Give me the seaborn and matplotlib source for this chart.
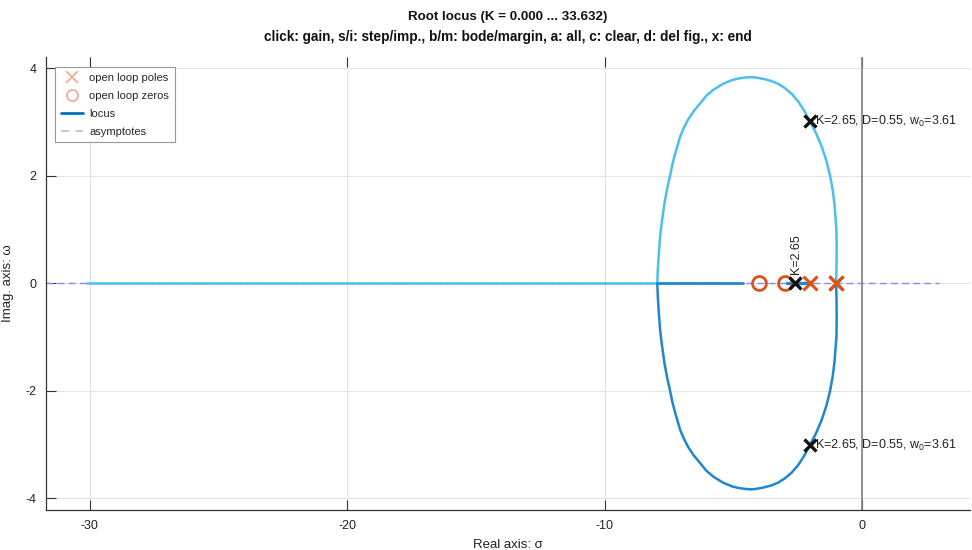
import numpy as np
import matplotlib
matplotlib.use("Agg")
import matplotlib.pyplot as plt
import seaborn as sns
from matplotlib.lines import Line2D

# ---- open-loop system and gain range ----
poles_re = [-1.0, -1.0, -2.0]
zeros_re = [-3.0, -4.0]
k_range = (0.000, 33.632)

# ---- locus: upper half of the complex loop (lower half is its conjugate) ----
loop_re = [-1.00, -0.985, -0.98, -0.99, -1.03, -1.07, -1.14, -1.24, -1.38, -1.56,
           -1.78, -2.02, -2.24, -2.47, -2.72, -2.99, -3.25, -3.50, -3.85, -4.15,
           -4.30, -4.50, -4.80, -5.05, -5.40, -5.77, -6.04, -6.28, -6.54, -6.76,
           -6.92, -7.06, -7.25, -7.36, -7.45, -7.57, -7.67, -7.77, -7.84, -7.89,
           -7.93, -7.95]
loop_im = [0.00, 0.35, 0.70, 1.00, 1.25, 1.49, 1.75, 2.01, 2.28, 2.54,
           2.79, 3.01, 3.21, 3.38, 3.52, 3.63, 3.71, 3.76, 3.805, 3.83,
           3.835, 3.83, 3.81, 3.78, 3.71, 3.60, 3.49, 3.35, 3.20, 3.04,
           2.89, 2.73, 2.42, 2.22, 2.01, 1.75, 1.49, 1.15, 0.87, 0.55,
           0.25, 0.00]

# real-axis branches (start, end)
branch_far_left = [-7.95, -30.10]
branch_inner = [-7.95, -4.63]
branch_pole = [-2.00, -2.91]

# ---- selected gain K = 2.65 ----
sel_gain = 2.65
sel_re = [-2.02, -2.02, -2.60]
sel_im = [3.01, -3.01, 0.00]
sel_damping = 0.55
sel_w0 = 3.61

x_ticks = [-30, -20, -10, 0]
y_ticks = [-4, -2, 0, 2, 4]

LIGHT = "#4dbeee"
DARK = "#1f86cf"
ORANGE = "#d95319"

sns.set_theme(style="whitegrid")
plt.rcParams["font.family"] = ["Liberation Sans", "DejaVu Sans"]
plt.rcParams["axes.unicode_minus"] = False
plt.rcParams["mathtext.fontset"] = "custom"
plt.rcParams["mathtext.rm"] = "Liberation Sans"
plt.rcParams["mathtext.it"] = "Liberation Sans:italic"

fig = plt.figure(figsize=(9.72, 5.5), dpi=100)
ax = fig.add_axes([46 / 972, 40 / 550, 924 / 972, 453 / 550])
ax.set_xlim(-31.7, 4.2)
ax.set_ylim(-4.22, 4.21)

# imaginary axis and asymptote
ax.axvline(0, color="#808080", lw=1.2, zorder=1)
ax.plot([-31.7, 3.0], [0, 0], ls=(0, (5, 3)), color="#8a8ae0", lw=1.0, zorder=1.5)

# locus branches
sns.lineplot(x=loop_re, y=loop_im, sort=False, estimator=None, color=LIGHT, lw=1.8, ax=ax, zorder=3)
sns.lineplot(x=loop_re, y=[-v for v in loop_im], sort=False, estimator=None, color=DARK, lw=1.8, ax=ax, zorder=3)
sns.lineplot(x=branch_far_left, y=[0, 0], sort=False, estimator=None, color=LIGHT, lw=1.8, ax=ax, zorder=2.5)
sns.lineplot(x=branch_inner, y=[0, 0], sort=False, estimator=None, color=DARK, lw=2.0, ax=ax, zorder=2.5)
sns.lineplot(x=branch_pole, y=[0, 0], sort=False, estimator=None, color=DARK, lw=2.4, ax=ax, zorder=2.5)

# open-loop zeros and poles
ax.plot(zeros_re, [0] * len(zeros_re), ls="none", marker="o", mfc="none", mec=ORANGE, ms=10, mew=2, zorder=4)
ax.plot(poles_re, [0] * len(poles_re), ls="none", marker="x", color=ORANGE, ms=10, mew=2.2, zorder=4)

# closed-loop poles at the selected gain
ax.plot(sel_re, sel_im, ls="none", marker="x", color="#111111", ms=9, mew=2.4, zorder=5)
info = f"K={sel_gain:.2f}, D={sel_damping:.2f}, w$_0$={sel_w0:.2f}"
for re, im in zip(sel_re[:2], sel_im[:2]):
    ax.text(re + 0.2, im, info, ha="left", va="center", fontsize=9, color="#222222", zorder=6)
ax.text(sel_re[2] + 0.05, 0.17, f"K={sel_gain:.2f}", rotation=90, ha="center", va="bottom",
        fontsize=9, color="#222222", zorder=6)

# axes styling
ax.set_xticks(x_ticks)
ax.set_yticks(y_ticks)
ax.set_xticklabels([str(t) for t in x_ticks])
ax.set_yticklabels([str(t) for t in y_ticks])
ax.grid(True, color="#e3e3e3", lw=0.8)
ax.tick_params(direction="in", length=7, width=0.8, color="#333333", labelsize=9,
               labelcolor="#222222", top=True, bottom=True, left=True, right=False, pad=7)
for side in ("left", "bottom"):
    ax.spines[side].set_color("#333333")
    ax.spines[side].set_linewidth(0.9)
for side in ("top", "right"):
    ax.spines[side].set_visible(False)

ax.set_xlabel("Real axis: σ", fontsize=9.5, color="#222222", labelpad=5)
ax.set_ylabel("Imag. axis: ω", fontsize=9.5, color="#222222", labelpad=8)

fig.text(508 / 972, 1 - 17 / 550, f"Root locus (K = {k_range[0]:.3f} ... {k_range[1]:.3f})",
         ha="center", va="center", fontsize=9.6, fontweight="bold", color="#111111")
fig.text(508 / 972, 1 - 37 / 550,
         "click: gain, s/i: step/imp., b/m: bode/margin, a: all, c: clear, d: del fig., x: end",
         ha="center", va="center", fontsize=9.8, fontweight="bold", color="#111111")

handles = [
    Line2D([], [], ls="none", marker="x", color="#eeaa8c", ms=8, mew=1.2),
    Line2D([], [], ls="none", marker="o", mfc="none", mec="#eeaa8c", ms=8, mew=1.2),
    Line2D([], [], color="#0072bd", lw=2),
    Line2D([], [], color="#c5c5e8", lw=1.5, ls=(0, (4, 3))),
]
labels = ["open loop poles", "open loop zeros", "locus", "asymptotes"]
leg = ax.legend(handles, labels, loc="upper left", bbox_to_anchor=(0.0097, 0.978), borderaxespad=0,
                fontsize=8, frameon=True, fancybox=False, edgecolor="#999999", framealpha=1,
                handlelength=2.0, handletextpad=0.6, labelspacing=0.72, borderpad=0.5)
leg.get_frame().set_linewidth(0.8)

fig.savefig("out.png", dpi=100, facecolor="white")
